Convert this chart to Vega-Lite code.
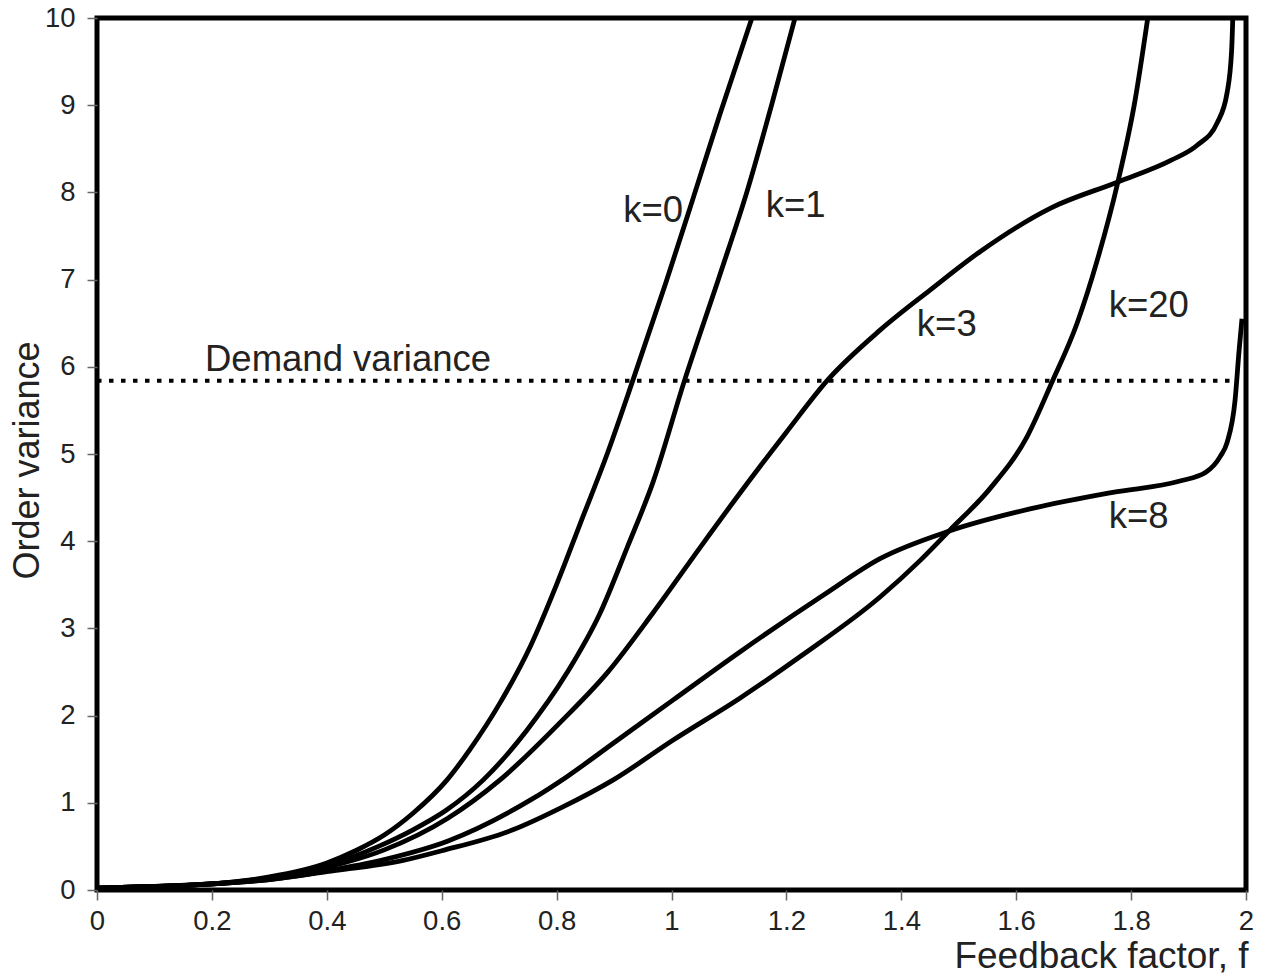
{
  "$schema": "https://vega.github.io/schema/vega-lite/v6.json",
  "width": 1149,
  "height": 872,
  "autosize": {"type": "none"},
  "padding": {"left": 97, "top": 18, "right": 23, "bottom": 86},
  "background": "white",
  "config": {
    "view": {"stroke": "black", "strokeWidth": 5},
    "font": "Liberation Sans"
  },
  "datasets": {
    "curves": [
      {"k": "k=0", "f": 0, "v": 0.02}, {"k": "k=0", "f": 0.1, "v": 0.04}, {"k": "k=0", "f": 0.2, "v": 0.07},
      {"k": "k=0", "f": 0.3, "v": 0.15}, {"k": "k=0", "f": 0.4, "v": 0.31}, {"k": "k=0", "f": 0.45, "v": 0.45},
      {"k": "k=0", "f": 0.5, "v": 0.63}, {"k": "k=0", "f": 0.55, "v": 0.88}, {"k": "k=0", "f": 0.609, "v": 1.26},
      {"k": "k=0", "f": 0.649, "v": 1.61}, {"k": "k=0", "f": 0.701, "v": 2.14}, {"k": "k=0", "f": 0.754, "v": 2.79},
      {"k": "k=0", "f": 0.801, "v": 3.52}, {"k": "k=0", "f": 0.841, "v": 4.2}, {"k": "k=0", "f": 0.888, "v": 5.0},
      {"k": "k=0", "f": 0.933, "v": 5.85}, {"k": "k=0", "f": 0.99, "v": 6.96}, {"k": "k=0", "f": 1.037, "v": 7.92},
      {"k": "k=0", "f": 1.084, "v": 8.89}, {"k": "k=0", "f": 1.14, "v": 10.0},

      {"k": "k=1", "f": 0, "v": 0.02}, {"k": "k=1", "f": 0.1, "v": 0.04}, {"k": "k=1", "f": 0.2, "v": 0.07},
      {"k": "k=1", "f": 0.3, "v": 0.14}, {"k": "k=1", "f": 0.4, "v": 0.28}, {"k": "k=1", "f": 0.49, "v": 0.5},
      {"k": "k=1", "f": 0.55, "v": 0.69}, {"k": "k=1", "f": 0.609, "v": 0.92}, {"k": "k=1", "f": 0.672, "v": 1.26},
      {"k": "k=1", "f": 0.748, "v": 1.83}, {"k": "k=1", "f": 0.818, "v": 2.49}, {"k": "k=1", "f": 0.876, "v": 3.18},
      {"k": "k=1", "f": 0.923, "v": 3.93}, {"k": "k=1", "f": 0.968, "v": 4.68}, {"k": "k=1", "f": 1.023, "v": 5.85},
      {"k": "k=1", "f": 1.084, "v": 7.05}, {"k": "k=1", "f": 1.131, "v": 8.0}, {"k": "k=1", "f": 1.175, "v": 9.02},
      {"k": "k=1", "f": 1.215, "v": 10.0},

      {"k": "k=3", "f": 0, "v": 0.02}, {"k": "k=3", "f": 0.1, "v": 0.04}, {"k": "k=3", "f": 0.2, "v": 0.07},
      {"k": "k=3", "f": 0.3, "v": 0.13}, {"k": "k=3", "f": 0.4, "v": 0.26}, {"k": "k=3", "f": 0.5, "v": 0.46},
      {"k": "k=3", "f": 0.61, "v": 0.82}, {"k": "k=3", "f": 0.701, "v": 1.26}, {"k": "k=3", "f": 0.806, "v": 1.92},
      {"k": "k=3", "f": 0.888, "v": 2.49}, {"k": "k=3", "f": 0.968, "v": 3.18}, {"k": "k=3", "f": 1.05, "v": 3.93},
      {"k": "k=3", "f": 1.119, "v": 4.55}, {"k": "k=3", "f": 1.2, "v": 5.25}, {"k": "k=3", "f": 1.272, "v": 5.85},
      {"k": "k=3", "f": 1.363, "v": 6.42}, {"k": "k=3", "f": 1.45, "v": 6.88}, {"k": "k=3", "f": 1.537, "v": 7.32},
      {"k": "k=3", "f": 1.66, "v": 7.82}, {"k": "k=3", "f": 1.777, "v": 8.12}, {"k": "k=3", "f": 1.87, "v": 8.37},
      {"k": "k=3", "f": 1.915, "v": 8.54}, {"k": "k=3", "f": 1.95, "v": 8.8}, {"k": "k=3", "f": 1.967, "v": 9.14},
      {"k": "k=3", "f": 1.975, "v": 9.63}, {"k": "k=3", "f": 1.977, "v": 10.0},

      {"k": "k=8", "f": 0, "v": 0.02}, {"k": "k=8", "f": 0.1, "v": 0.04}, {"k": "k=8", "f": 0.2, "v": 0.07},
      {"k": "k=8", "f": 0.3, "v": 0.12}, {"k": "k=8", "f": 0.4, "v": 0.22}, {"k": "k=8", "f": 0.5, "v": 0.35},
      {"k": "k=8", "f": 0.61, "v": 0.56}, {"k": "k=8", "f": 0.754, "v": 1.03}, {"k": "k=8", "f": 0.818, "v": 1.3},
      {"k": "k=8", "f": 0.898, "v": 1.68}, {"k": "k=8", "f": 1.003, "v": 2.18}, {"k": "k=8", "f": 1.119, "v": 2.73},
      {"k": "k=8", "f": 1.264, "v": 3.38}, {"k": "k=8", "f": 1.363, "v": 3.8}, {"k": "k=8", "f": 1.485, "v": 4.12},
      {"k": "k=8", "f": 1.624, "v": 4.37}, {"k": "k=8", "f": 1.768, "v": 4.56}, {"k": "k=8", "f": 1.885, "v": 4.69},
      {"k": "k=8", "f": 1.93, "v": 4.79}, {"k": "k=8", "f": 1.955, "v": 4.97}, {"k": "k=8", "f": 1.967, "v": 5.13},
      {"k": "k=8", "f": 1.981, "v": 5.62}, {"k": "k=8", "f": 1.988, "v": 6.19}, {"k": "k=8", "f": 1.993, "v": 6.55},

      {"k": "k=20", "f": 0, "v": 0.02}, {"k": "k=20", "f": 0.1, "v": 0.04}, {"k": "k=20", "f": 0.2, "v": 0.07},
      {"k": "k=20", "f": 0.3, "v": 0.12}, {"k": "k=20", "f": 0.4, "v": 0.21}, {"k": "k=20", "f": 0.533, "v": 0.34},
      {"k": "k=20", "f": 0.6, "v": 0.45}, {"k": "k=20", "f": 0.724, "v": 0.69}, {"k": "k=20", "f": 0.81, "v": 0.95},
      {"k": "k=20", "f": 0.898, "v": 1.26}, {"k": "k=20", "f": 1.003, "v": 1.72}, {"k": "k=20", "f": 1.119, "v": 2.2},
      {"k": "k=20", "f": 1.229, "v": 2.7}, {"k": "k=20", "f": 1.363, "v": 3.36}, {"k": "k=20", "f": 1.433, "v": 3.78},
      {"k": "k=20", "f": 1.485, "v": 4.13}, {"k": "k=20", "f": 1.554, "v": 4.6}, {"k": "k=20", "f": 1.619, "v": 5.2},
      {"k": "k=20", "f": 1.662, "v": 5.82}, {"k": "k=20", "f": 1.706, "v": 6.5}, {"k": "k=20", "f": 1.741, "v": 7.22},
      {"k": "k=20", "f": 1.777, "v": 8.12}, {"k": "k=20", "f": 1.807, "v": 9.06}, {"k": "k=20", "f": 1.829, "v": 10.0}
    ],
    "demand": [{"f0": 0, "f1": 1.975, "v": 5.84}],
    "labels": [
      {"text": "k=0", "f": 0.916, "v": 7.66},
      {"text": "k=1", "f": 1.164, "v": 7.72},
      {"text": "k=3", "f": 1.427, "v": 6.35},
      {"text": "k=20", "f": 1.761, "v": 6.57},
      {"text": "k=8", "f": 1.761, "v": 4.15},
      {"text": "Demand variance", "f": 0.188, "v": 5.95}
    ]
  },
  "encoding": {
    "x": {
      "field": "f", "type": "quantitative",
      "scale": {"domain": [0, 2], "nice": false, "zero": false},
      "axis": {
        "values": [0, 0.2, 0.4, 0.6, 0.8, 1, 1.2, 1.4, 1.6, 1.8, 2],
        "format": "~g",
        "grid": false, "domain": false,
        "tickColor": "#666", "tickSize": 10, "tickWidth": 1.5,
        "labelFontSize": 27.5, "labelColor": "#222", "labelPadding": 7,
        "labelFlush": false,
        "title": "Feedback factor, f",
        "titleFontSize": 37, "titleFontWeight": "normal", "titleColor": "#222",
        "titleAlign": "right", "titleAnchor": "end", "titleBaseline": "alphabetic",
        "titleX": 1151, "titleY": 77
      }
    },
    "y": {
      "field": "v", "type": "quantitative",
      "scale": {"domain": [0, 10], "nice": false},
      "axis": {
        "values": [0, 1, 2, 3, 4, 5, 6, 7, 8, 9, 10],
        "grid": false, "domain": false,
        "tickColor": "#666", "tickSize": 10, "tickWidth": 1.5,
        "labelFontSize": 27.5, "labelColor": "#222", "labelPadding": 12,
        "labelFlush": false,
        "title": "Order variance",
        "titleFontSize": 36, "titleFontWeight": "normal", "titleColor": "#222",
        "titleAngle": -90, "titleAlign": "center", "titleBaseline": "alphabetic",
        "titleX": -59, "titleY": 442
      }
    }
  },
  "layer": [
    {
      "data": {"name": "demand"},
      "mark": {"type": "rule", "color": "black", "strokeWidth": 4, "strokeDash": [4.5, 7.5]},
      "encoding": {
        "x": {"field": "f0", "type": "quantitative"},
        "x2": {"field": "f1"},
        "y": {"field": "v", "type": "quantitative"}
      }
    },
    {
      "data": {"name": "curves"},
      "mark": {"type": "line", "color": "black", "strokeWidth": 4.8, "interpolate": "monotone", "clip": true},
      "encoding": {
        "detail": {"field": "k", "type": "nominal"}
      }
    },
    {
      "data": {"name": "labels"},
      "mark": {"type": "text", "align": "left", "baseline": "alphabetic", "fontSize": 36.5, "color": "#222"},
      "encoding": {
        "text": {"field": "text", "type": "nominal"}
      }
    }
  ]
}
